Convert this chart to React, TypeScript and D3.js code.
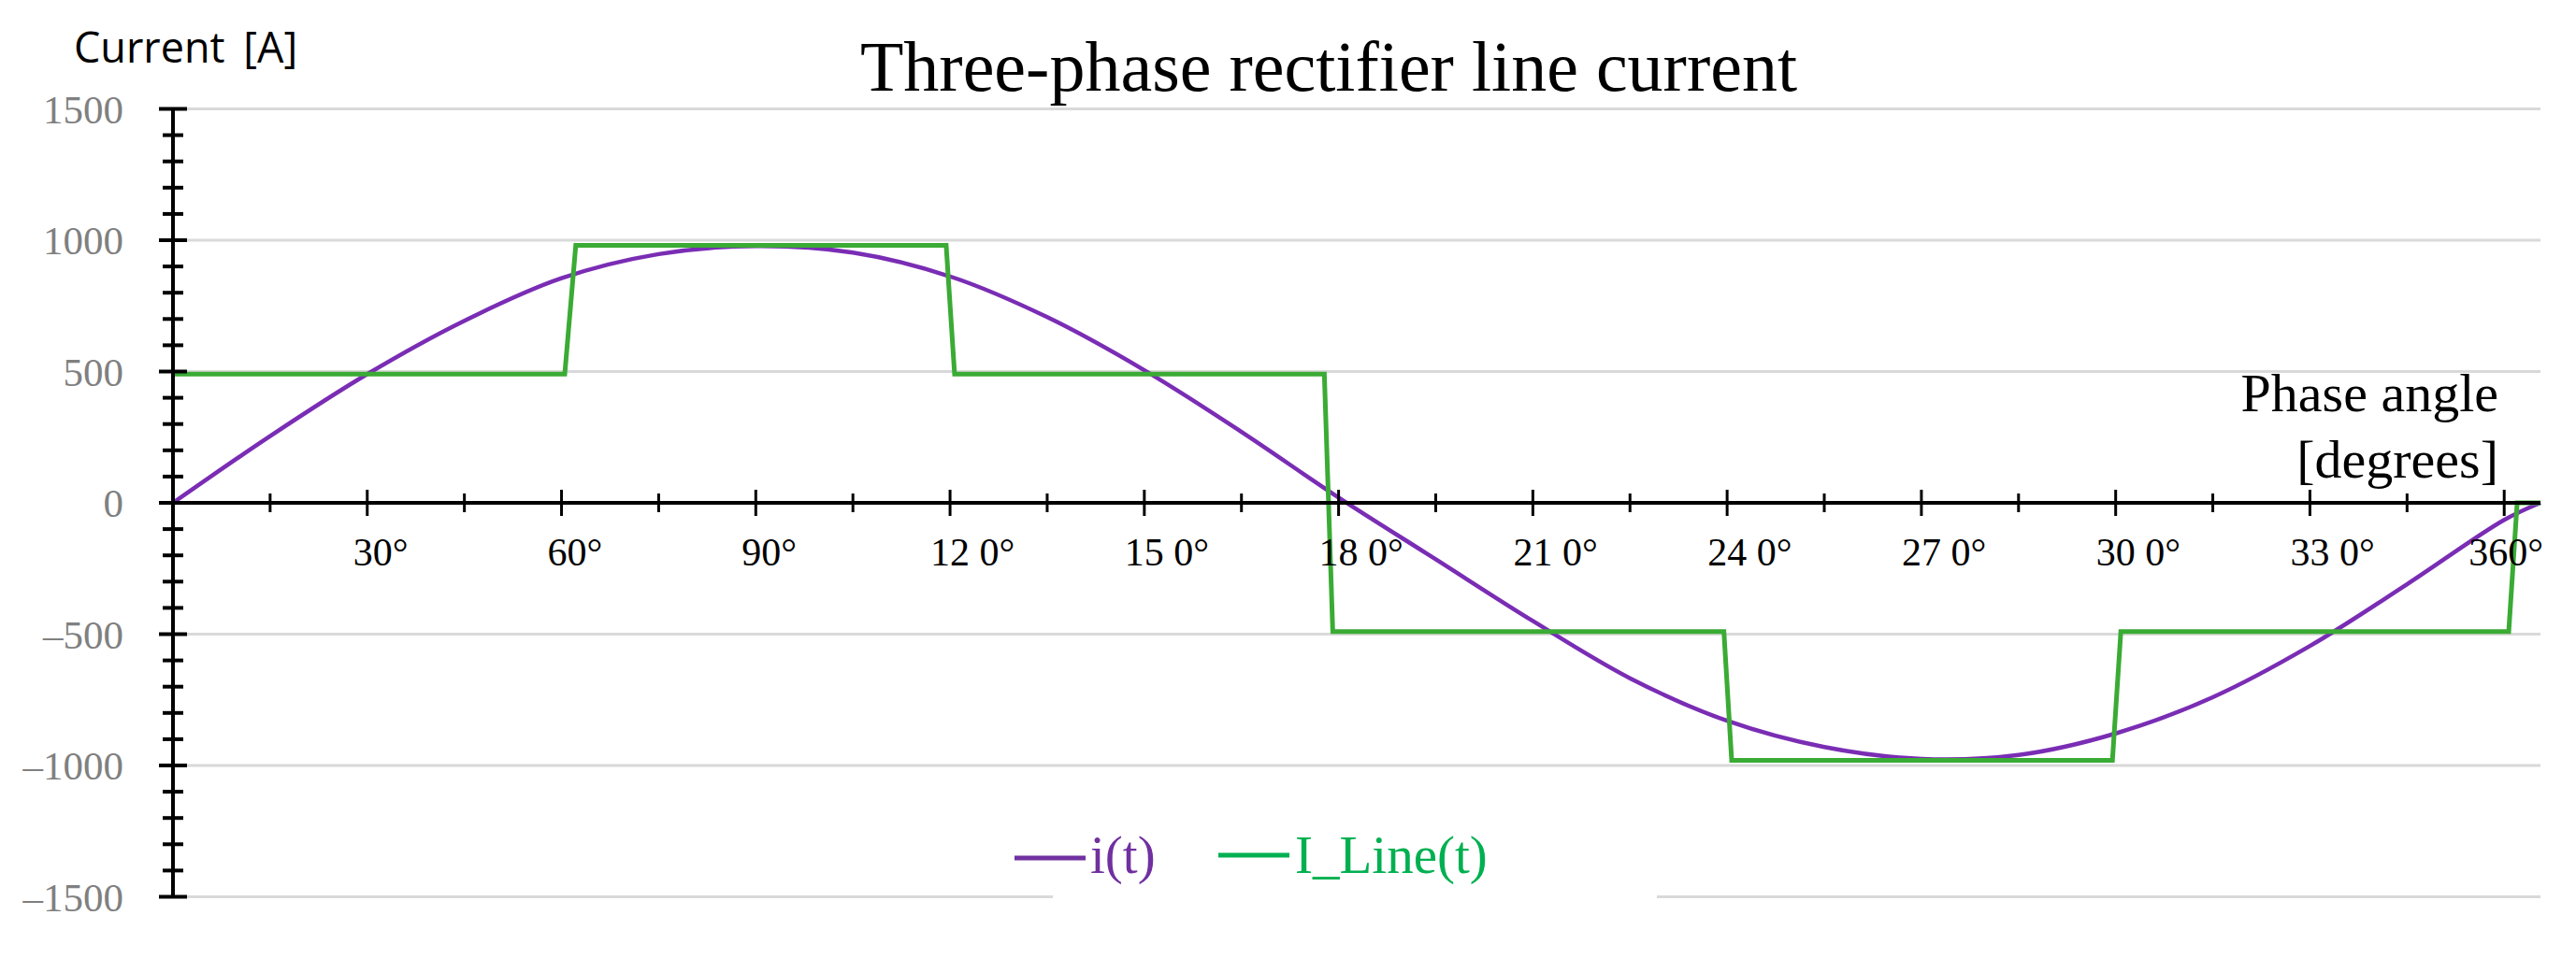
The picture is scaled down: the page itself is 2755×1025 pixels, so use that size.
import React from "react";
import * as d3 from "d3";

// ---- data ----
const phaseDeg = [0, 15, 30, 45, 60, 75, 90, 105, 120, 135, 150, 165, 180, 195, 210, 225, 240, 255, 270, 285, 300, 315, 330, 345, 360, 365.6];
const iValues = [0, 254, 490, 693, 855, 947, 978, 953, 862, 707, 505, 270, 20, -215, -450, -668, -830, -930, -975, -960, -878, -740, -545, -310, -65, 0];

const lineDeg = [0, 60.5, 62.2, 119.4, 120.7, 177.8, 179.1, 239.5, 240.7, 299.5, 300.8, 360.7, 362, 365.6];
const lineValues = [490, 490, 980, 980, 490, 490, -490, -490, -980, -980, -490, -490, 0, 0];

const xMajorTicks = [30, 60, 90, 120, 150, 180, 210, 240, 270, 300, 330, 360];
const xTickLabels = ["30°", "60°", "90°", "12 0°", "15 0°", "18 0°", "21 0°", "24 0°", "27 0°", "30 0°", "33 0°", "360°"];
const yMajorTicks = [1500, 1000, 500, 0, -500, -1000, -1500];
const yTickLabels = ["1500", "1000", "500", "0", "–500", "–1000", "–1500"];
const seriesNames = ["i(t)", "I_Line(t)"];

const W = 2755;
const H = 1025;
const PURPLE = "#7a2db4";
const GREEN = "#3aab34";
const LEG_PURPLE = "#7030a0";
const LEG_GREEN = "#00b050";
const SERIF = "'Liberation Serif', 'Times New Roman', serif";

export default function App() {
  const x = d3.scaleLinear().domain([0, 365.6]).range([185, 2717]);
  const y = d3.scaleLinear().domain([-1500, 1500]).range([959.5, 116.5]);

  const iPts: [number, number][] = phaseDeg.map((d, k) => [d, iValues[k]]);
  const lPts: [number, number][] = lineDeg.map((d, k) => [d, lineValues[k]]);

  const iPath = d3
    .line<[number, number]>()
    .x((d) => x(d[0]))
    .y((d) => y(d[1]))
    .curve(d3.curveCatmullRom.alpha(0.5))(iPts) || "";
  const lPath = d3
    .line<[number, number]>()
    .x((d) => x(d[0]))
    .y((d) => y(d[1]))(lPts) || "";

  const yMinor = d3.range(-1500, 1501, 100);
  const xMinor = d3.range(15, 361, 15);
  const gridVals = yMajorTicks.filter((v) => v !== 0);
  const x0 = x(0);
  const y0 = y(0);
  const xEnd = x(365.6);

  return (
    <svg
      width={W}
      height={H}
      style={{ position: "fixed", left: 0, top: 0, background: "#fff" }}
      xmlns="http://www.w3.org/2000/svg"
    >
      <rect x={0} y={0} width={W} height={H} fill="#fff" />

      {/* gridlines */}
      {gridVals.map((v) => (
        <line key={"g" + v} x1={x0 + 15} x2={xEnd} y1={y(v)} y2={y(v)} stroke="#d9d9d9" strokeWidth={3} />
      ))}
      {/* legend background interrupts the bottom gridline */}
      <rect x={1126} y={y(-1500) - 6} width={646} height={12} fill="#fff" />

      {/* series */}
      <path d={iPath} fill="none" stroke={PURPLE} strokeWidth={4.5} strokeLinejoin="round" />
      <path d={lPath} fill="none" stroke={GREEN} strokeWidth={5} strokeLinejoin="miter" />

      {/* x axis */}
      <line x1={x0 - 15} x2={xEnd} y1={y0} y2={y0} stroke="#000" strokeWidth={4} />
      {xMinor.map((t) => {
        const major = t % 30 === 0;
        const h = major ? 14 : 10;
        return <line key={"xt" + t} x1={x(t)} x2={x(t)} y1={y0 - h} y2={y0 + h} stroke="#000" strokeWidth={3} />;
      })}
      {xMajorTicks.map((t, k) => {
        const last = k === xMajorTicks.length - 1;
        const lab = xTickLabels[k];
        return (
          <text
            key={"xl" + t}
            x={last ? 2720 : x(t) + (lab.length <= 3 ? -15 : -21)}
            y={605}
            textAnchor={last ? "end" : "start"}
            fontFamily={SERIF}
            fontSize={42}
            fill="#000"
          >
            {lab}
          </text>
        );
      })}

      {/* y axis */}
      <line x1={x0} x2={x0} y1={y(1500)} y2={y(-1500)} stroke="#000" strokeWidth={4} />
      {yMinor.map((v) => {
        const major = v % 500 === 0;
        const h = major ? 15 : 11;
        return <line key={"yt" + v} x1={x0 - h} x2={x0 + h} y1={y(v)} y2={y(v)} stroke="#000" strokeWidth={4} />;
      })}
      {yMajorTicks.map((v, k) => (
        <text
          key={"yl" + v}
          x={132}
          y={y(v)}
          dy="0.35em"
          textAnchor="end"
          fontFamily={SERIF}
          fontSize={43}
          fill="#808080"
        >
          {yTickLabels[k]}
        </text>
      ))}

      {/* titles */}
      <text x={1421} y={97} textAnchor="middle" fontFamily={SERIF} fontSize={76} fill="#000">
        Three-phase rectifier line current
      </text>
      <text
        x={79}
        y={67}
        fontFamily="'Open Sans', 'Noto Sans', sans-serif"
        fontSize={45}
        wordSpacing={8}
        fill="#000"
      >
        Current [A]
      </text>
      <text x={2672} y={440} textAnchor="end" fontFamily={SERIF} fontSize={58} fill="#000">
        Phase angle
      </text>
      <text x={2672} y={511} textAnchor="end" fontFamily={SERIF} fontSize={58} fill="#000">
        [degrees]
      </text>

      {/* legend */}
      <line x1={1085} x2={1161} y1={918} y2={918} stroke={LEG_PURPLE} strokeWidth={5} />
      <text x={1166} y={934} fontFamily={SERIF} fontSize={57} fill={LEG_PURPLE}>
        {seriesNames[0]}
      </text>
      <line x1={1303} x2={1379} y1={915} y2={915} stroke={LEG_GREEN} strokeWidth={5} />
      <text x={1385} y={934} fontFamily={SERIF} fontSize={57} fill={LEG_GREEN}>
        {seriesNames[1]}
      </text>
    </svg>
  );
}
